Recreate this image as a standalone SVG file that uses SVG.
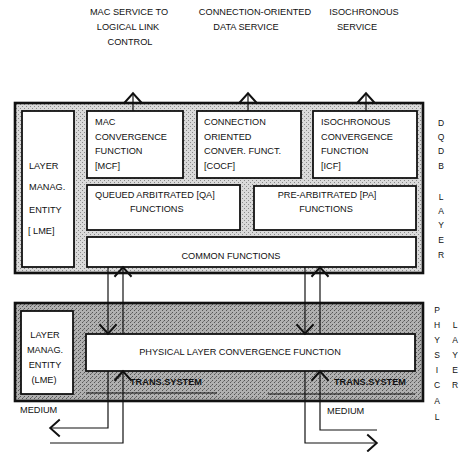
<svg xmlns="http://www.w3.org/2000/svg" width="461" height="452" viewBox="0 0 461 452">
<style>
text{font-family:"Liberation Sans",Arial,sans-serif;font-size:9.2px;fill:#111}
.b{font-weight:bold}
.m{text-anchor:middle}
.v{font-size:8.5px;text-anchor:middle}
.box{fill:#fff;stroke:#111;stroke-width:1.8}
.outer{stroke:#111;stroke-width:2.6}
.c{fill:none;stroke:#111;stroke-width:1.2;marker-end:url(#ah)}
.l{fill:none;stroke:#111;stroke-width:1.2}
</style>
<defs>
<marker id="ah" viewBox="0 0 9 16" refX="8.6" refY="8" markerWidth="11" markerHeight="19.5" markerUnits="userSpaceOnUse" orient="auto" overflow="visible">
<path d="M0.6,1 L8.4,8 L0.6,15" fill="none" stroke="#111" stroke-width="1.6"/>
</marker>
<pattern id="lt" width="4" height="4" patternUnits="userSpaceOnUse">
<rect width="4" height="4" fill="#dadada"/>
<rect x="0" y="0" width="1" height="1" fill="#8a8a8a"/>
<rect x="2" y="2" width="1" height="1" fill="#8a8a8a"/>
</pattern>
<pattern id="dk" width="4" height="4" patternUnits="userSpaceOnUse">
<rect width="4" height="4" fill="#b0b0b0"/>
<rect x="0" y="0" width="1" height="1" fill="#555"/>
<rect x="2" y="2" width="1" height="1" fill="#555"/>
<rect x="3" y="1" width="1" height="1" fill="#777"/>
</pattern>
</defs>

<g id="top-labels">
<text class="m" x="129" y="15">MAC SERVICE TO</text>
<text class="m" x="128" y="30">LOGICAL LINK</text>
<text class="m" x="130" y="45">CONTROL</text>
<text class="m" x="255" y="15">CONNECTION-ORIENTED</text>
<text class="m" x="246" y="30">DATA SERVICE</text>
<text class="m" x="364" y="15">ISOCHRONOUS</text>
<text class="m" x="357" y="30">SERVICE</text>
</g>

<g id="dqdb-layer">
<rect class="outer" x="15" y="103" width="408" height="170" fill="url(#lt)"/>
</g>
<g id="physical-layer">
<rect class="outer" x="15" y="303" width="408" height="98" fill="url(#dk)"/>
</g>

<g id="lme-upper">
<rect class="box" x="22" y="111" width="52" height="156"/>
<text x="29" y="169">LAYER</text>
<text x="29" y="190">MANAG.</text>
<text x="29" y="213">ENTITY</text>
<text x="28" y="234">[ LME]</text>
</g>
<g id="mcf">
<rect class="box" x="87" y="111" width="96" height="67"/>
<text x="95" y="125">MAC</text>
<text x="95" y="140">CONVERGENCE</text>
<text x="95" y="154">FUNCTION</text>
<text x="95" y="169">[MCF]</text>
</g>
<g id="cocf">
<rect class="box" x="197" y="111" width="104" height="67"/>
<text x="204" y="125">CONNECTION</text>
<text x="204" y="140">ORIENTED</text>
<text x="204" y="154">CONVER. FUNCT.</text>
<text x="204" y="169">[COCF]</text>
</g>
<g id="icf">
<rect class="box" x="313" y="111" width="104" height="67"/>
<text x="321" y="125">ISOCHRONOUS</text>
<text x="321" y="140">CONVERGENCE</text>
<text x="321" y="154">FUNCTION</text>
<text x="321" y="169">[ICF]</text>
</g>
<g id="qa">
<rect class="box" x="87" y="185" width="153" height="45"/>
<text x="95" y="198">QUEUED ARBITRATED [QA]</text>
<text x="130" y="212">FUNCTIONS</text>
</g>
<g id="pa">
<rect class="box" x="254" y="186" width="162" height="44"/>
<text class="m" x="327" y="198">PRE-ARBITRATED [PA]</text>
<text class="m" x="326" y="212">FUNCTIONS</text>
</g>
<g id="common">
<rect class="box" x="87" y="237" width="329" height="30"/>
<text class="m" x="231" y="259">COMMON  FUNCTIONS</text>
</g>

<g id="lme-lower">
<rect class="box" x="21" y="311" width="52" height="83"/>
<text class="m" x="45" y="338">LAYER</text>
<text class="m" x="45" y="353">MANAG.</text>
<text class="m" x="45" y="368">ENTITY</text>
<text class="m" x="44" y="383">(LME)</text>
</g>
<g id="plcf">
<rect class="box" x="86" y="334" width="329" height="37"/>
<text class="m" x="240" y="355">PHYSICAL LAYER CONVERGENCE FUNCTION</text>
</g>
<g id="trans-left">
<line class="l" x1="86" y1="393" x2="217" y2="393"/>
<text class="b" x="130" y="385">TRANS.SYSTEM</text>
</g>
<g id="trans-right">
<line class="l" x1="268" y1="394" x2="415" y2="394"/>
<text class="b" x="334" y="385">TRANS.SYSTEM</text>
</g>

<g id="side-labels">
<text class="v" x="441" y="126">D</text>
<text class="v" x="441" y="140">Q</text>
<text class="v" x="441" y="154">D</text>
<text class="v" x="441" y="169">B</text>
<text class="v" x="441" y="200">L</text>
<text class="v" x="441" y="214">A</text>
<text class="v" x="441" y="228">Y</text>
<text class="v" x="441" y="243">E</text>
<text class="v" x="441" y="258">R</text>
<text class="v" x="437" y="313">P</text>
<text class="v" x="437" y="328">H</text>
<text class="v" x="437" y="343">Y</text>
<text class="v" x="437" y="358">S</text>
<text class="v" x="437" y="373">I</text>
<text class="v" x="437" y="388">C</text>
<text class="v" x="437" y="404">A</text>
<text class="v" x="437" y="420">L</text>
<text class="v" x="455" y="328">L</text>
<text class="v" x="455" y="343">A</text>
<text class="v" x="455" y="358">Y</text>
<text class="v" x="455" y="373">E</text>
<text class="v" x="455" y="388">R</text>
<text x="20" y="413">MEDIUM</text>
<text x="327" y="414">MEDIUM</text>
</g>

<g id="connectors">
<path class="c" d="M133,111 L133,93"/>
<path class="c" d="M248,111 L248,93"/>
<path class="c" d="M366,111 L366,93"/>
<path class="c" d="M108,267 L108,334"/>
<path class="c" d="M123,334 L123,267"/>
<path class="c" d="M305,267 L305,334"/>
<path class="c" d="M320,334 L320,267"/>
<path class="c" d="M108,371 L108,428 L50,428"/>
<path class="c" d="M50,443 L123,443 L123,371"/>
<path class="c" d="M377,430 L320,430 L320,371"/>
<path class="c" d="M305,371 L305,443 L377,443"/>
</g>
</svg>
